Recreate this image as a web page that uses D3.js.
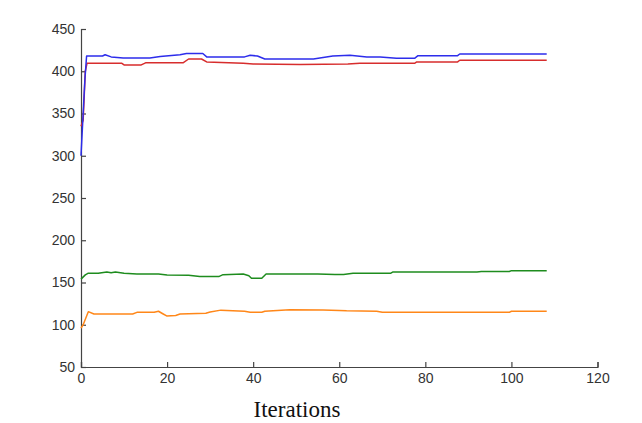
<!DOCTYPE html>
<html>
<head>
<meta charset="utf-8">
<script src="https://cdn.jsdelivr.net/npm/d3@7"></script>
<style>
  body { margin: 0; background: #fff; overflow: hidden; }
  svg { display: block; }
</style>
</head>
<body>
<svg id="plot" width="642" height="423"></svg>
<script>
// values: [iteration, value]
const blueSeries = [[0,300],[0.4,340],[0.9,390],[1.3,418],[5,418],[5.6,419.5],[7,417],[9.8,415.7],[16,415.7],[18.4,417.5],[23,419.6],[24.5,421],[28.3,421],[29.2,417],[38,417],[39.3,419],[41,418],[42.7,414.5],[54,414.5],[58.5,418],[62.5,419],[66.4,417],[69.5,417],[73.3,415.3],[77.5,415.3],[78.3,418.4],[87.5,418.4],[88,420.4],[108.2,420.4]];
const redSeries = [[0,335],[0.5,342],[1,400],[1.4,409.4],[9.5,409.4],[10,407.5],[14,407.5],[15,410],[23.7,410],[25,414.5],[28,414.5],[29.2,411],[37.7,409.4],[40,408.5],[50.9,408],[62,408.5],[64.8,409.4],[77.5,409.4],[78,411],[87.5,411],[88,413],[108.2,413]];
const greenSeries = [[0,154],[1,159],[1.7,161],[4,161],[6,162.5],[7,161.5],[8,162.5],[10,161],[13,160],[18,160],[20,159],[25,158.5],[27.6,157],[32,157],[33,159.3],[37.7,160],[39,158],[39.6,155],[42,155],[43,160],[55,160],[59,159.5],[61,159.5],[63.2,161],[72,161],[72.5,162.5],[92,162.5],[93,163],[99.5,163],[100,164],[108.2,164]];
const orangeSeries = [[0,96],[0.5,100],[1.7,115.5],[3,112.7],[12,112.7],[13,114.7],[17,114.7],[18,116],[19,113],[19.9,110.4],[22,111],[23,112.7],[29,113.5],[30,115],[32.5,117.3],[38,116],[39.3,114.7],[42,114.7],[42.7,116],[48.5,117.8],[56.2,117.5],[60,117],[61.7,116.6],[68.7,116],[70,114.7],[99.5,114.7],[100,116],[108.2,116]];

const xTicks = [0, 20, 40, 60, 80, 100, 120];
const yTicks = [50, 100, 150, 200, 250, 300, 350, 400, 450];
const xLabel = 'Iterations';

const seriesList = [
  { data: greenSeries, color: 'rgb(30,140,30)' },
  { data: orangeSeries, color: 'rgb(255,135,25)' },
  { data: redSeries, color: 'rgb(215,45,45)' },
  { data: blueSeries, color: 'rgb(45,45,235)' }
];

const svg = d3.select('#plot');
const margin = { top: 29, left: 81, right: 44.5, bottom: 56 };
const width = +svg.attr('width');
const height = +svg.attr('height');
const innerWidth = width - margin.left - margin.right;
const innerHeight = height - margin.top - margin.bottom;

const g = svg.append('g')
  .attr('transform', `translate(${margin.left}, ${margin.top})`);

const xScale = d3.scaleLinear().domain([0, 120]).range([0, innerWidth]);
const yScale = d3.scaleLinear().domain([50, 450]).range([innerHeight, 0]);

const axisStyle = axisG => {
  axisG.selectAll('.domain')
    .attr('stroke', '#444')
    .attr('stroke-width', 1.2);
  axisG.selectAll('line')
    .attr('stroke', '#444')
    .attr('stroke-width', 1.2);
  axisG.selectAll('text')
    .attr('fill', '#333')
    .attr('font-family', '"Liberation Sans", Arial, sans-serif')
    .attr('font-size', 14);
};

const xAxis = d3.axisBottom(xScale)
  .tickValues(xTicks)
  .tickSizeInner(-5)
  .tickSizeOuter(-5)
  .tickPadding(6);
g.append('g')
  .attr('transform', `translate(0, ${innerHeight})`)
  .call(xAxis)
  .call(axisStyle);

const yAxis = d3.axisLeft(yScale)
  .tickValues(yTicks)
  .tickSizeInner(-5)
  .tickSizeOuter(-5)
  .tickPadding(6);
g.append('g')
  .call(yAxis)
  .call(axisStyle);

const line = d3.line()
  .x(d => xScale(d[0]))
  .y(d => yScale(d[1]));

g.selectAll('.series').data(seriesList)
  .enter().append('path')
    .attr('class', 'series')
    .attr('fill', 'none')
    .attr('stroke', d => d.color)
    .attr('stroke-width', 1.5)
    .attr('stroke-linejoin', 'round')
    .attr('d', d => line(d.data));

// the title sits left of the axis centre in the original
g.append('text')
  .attr('x', 216)
  .attr('y', innerHeight + 50)
  .attr('text-anchor', 'middle')
  .attr('font-family', '"Liberation Serif", "Times New Roman", serif')
  .attr('font-size', 23)
  .attr('fill', '#111')
  .text(xLabel);
</script>
</body>
</html>
